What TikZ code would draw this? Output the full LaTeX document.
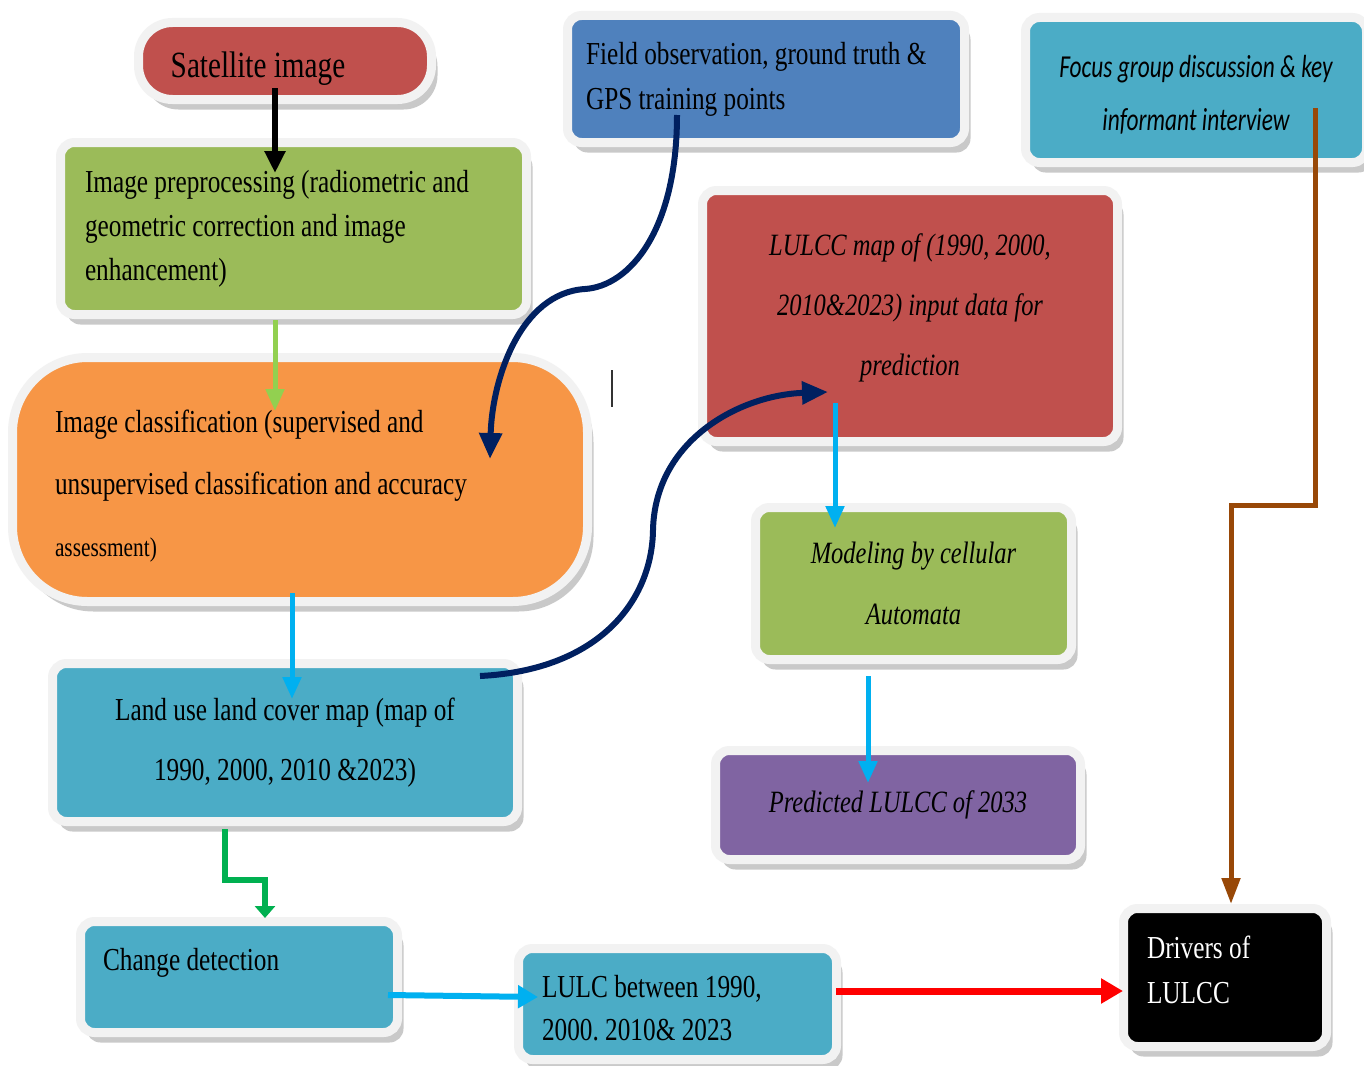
\documentclass[tikz,border=0pt]{standalone}
\usepackage{fontspec}
\setmainfont{Liberation Serif}[FakeStretch=0.79]
\newfontfamily\calib{Carlito}[FakeStretch=0.73]
\usetikzlibrary{arrows.meta,shadows,calc}
\frenchspacing
\definecolor{cRed}{HTML}{C0504D}
\definecolor{cGreen}{HTML}{9BBB59}
\definecolor{cBlue}{HTML}{4F81BD}
\definecolor{cTeal}{HTML}{4BACC6}
\definecolor{cOrange}{HTML}{F79646}
\definecolor{cPurple}{HTML}{8064A2}
\definecolor{bord}{HTML}{F2F2F2}
\definecolor{aNavy}{HTML}{002060}
\definecolor{aCyan}{HTML}{00B0F0}
\definecolor{aLGreen}{HTML}{92D050}
\definecolor{aGreen}{HTML}{00B050}
\definecolor{aRed}{HTML}{FF0000}
\definecolor{aBrown}{HTML}{984807}
\begin{document}
\begin{tikzpicture}[x=1pt,y=-1pt,
  box/.style={draw=bord, line width=9pt, rounded corners=14pt, inner ysep=4pt,
    drop shadow={shadow xshift=6pt,shadow yshift=-10pt,fill=black!60,opacity=.35}},
  serif/.style={font=\fontsize{32}{#1}\selectfont\frenchspacing},
  ital/.style={font=\fontsize{31}{#1}\selectfont\itshape},
  conn/.style={line width=#1, line cap=butt, line join=miter}
]
\useasboundingbox (0,0) rectangle (1364,1065);
\fill[white] (0,0) rectangle (1364,1065);

% boxes
\node[box, fill=cRed, minimum width=293, minimum height=77, rounded corners=34,
  font=\fontsize{37}{40}\selectfont] (sat) at (285,61)
  {\hspace*{-54pt}\raisebox{-8pt}[\height][\depth]{Satellite image}};
\node[box, fill=cGreen, minimum width=466, minimum height=172, inner xsep=24.5pt,
  text width=417pt, align=flush left, serif=44] (pre) at (293.5,228.5)
  {Image preprocessing (radiometric and\\ geometric correction and image\\ enhancement)};
\node[box, fill=cBlue, minimum width=397, minimum height=127, inner xsep=18.5pt,
  text width=360pt, align=flush left, serif=45] (field) at (766,79)
  {Field observation, ground truth \&\\ GPS training points};
\node[box, fill=cTeal, minimum width=341, minimum height=145, align=center,
  font=\fontsize{32}{53}\selectfont\calib\itshape] (focus) at (1196,90)
  {\mbox{}\\[-21pt]Focus group discussion \& key\\ informant interview};
\node[box, fill=cRed, minimum width=415, minimum height=251, align=center, ital=60] (lulcc) at (910,316)
  {LULCC map of (1990, 2000,\\ 2010\&2023) input data for\\ prediction\\[-37pt]\mbox{}};
\node[box, fill=cOrange, minimum width=575, minimum height=244, rounded corners=75,
  inner xsep=42.5pt, text width=490pt, align=flush left, serif=62] (cls) at (300,479.5)
  {\mbox{}\\[-26pt]Image classification (supervised and\\ unsupervised classification and accuracy\\ {\fontsize{27}{30}\selectfont assessment)}};
\node[box, fill=cGreen, minimum width=316, minimum height=152, align=center, ital=61] (model) at (913.5,583.5)
  {Modeling by cellular\\ Automata};
\node[box, fill=cTeal, minimum width=465, minimum height=158, align=center, serif=60] (lulc) at (285,742.5)
  {Land use land cover map (map of\\ 1990, 2000, 2010 \&2023)};
\node[box, fill=cPurple, minimum width=365, minimum height=109, align=center, ital=40] (pred) at (898,805)
  {Predicted LULCC of 2033};
\node[box, fill=cTeal, minimum width=317, minimum height=111, inner xsep=22.5pt,
  text width=272pt, align=flush left, serif=36] (chg) at (239,977)
  {Change detection\\ \mbox{}};
\node[box, fill=cTeal, minimum width=318, minimum height=111, inner xsep=23.5pt,
  text width=271pt, align=flush left, serif=43] (betw) at (677.5,1004)
  {\mbox{}\\[-13pt]LULC between 1990,\\ 2000. 2010\& 2023};
\node[box, fill=black, text=white, minimum width=203, minimum height=138, inner xsep=23.5pt,
  text width=156pt, align=flush left, serif=45] (drv) at (1225,977.5)
  {Drivers of\\ LULCC\\[-29pt]\mbox{}};

% connector end points
\coordinate (satOut) at (275,88);
\coordinate (preIn) at (275,173);
\coordinate (preOut) at (275,320);
\coordinate (clsIn) at (275,411);
\coordinate (clsOut) at (292,593);
\coordinate (lulcIn) at (292,699);
\coordinate (fieldOut) at (677,115);
\coordinate (clsIn2) at (490,459);
\coordinate (lulcOut) at (480,676);
\coordinate (lulccIn) at (828,392);
\coordinate (lulccOut) at (835,403);
\coordinate (modelIn) at (835,528);
\coordinate (modelOut) at (868,676);
\coordinate (predIn) at (868,783);
\coordinate (lulcOut2) at (225,829);
\coordinate (chgIn) at (265,918);
\coordinate (chgOut) at (388,995);
\coordinate (betwIn) at (538,997);
\coordinate (betwOut) at (836,991);
\coordinate (drvIn) at (1123,991);
\coordinate (focusOut) at (1315,108);
\coordinate (drvIn2) at (1231,904);

% connectors
\draw[conn=6pt, black, -{Triangle[width=20pt,length=22pt]}] (satOut) -- (preIn);
\draw[conn=5pt, aLGreen, -{Triangle[width=18pt,length=22pt]}] (preOut) -- (clsIn);
\draw[conn=5pt, aCyan, -{Triangle[width=18pt,length=22pt]}] (clsOut) -- (lulcIn);
\draw[conn=6pt, aNavy, -{Triangle[width=22pt,length=26pt]}] (fieldOut)
  .. controls (677,230) and (630,286) .. (585,289)
  .. controls (520,293) and (492,380) .. (clsIn2);
\draw[conn=6pt, aNavy, -{Triangle[width=22pt,length=26pt]}] (lulcOut)
  .. controls (600,670) and (652,600) .. (653,530)
  .. controls (655,440) and (740,395) .. (lulccIn);
\draw[conn=5pt, aCyan, -{Triangle[width=18pt,length=22pt]}] (lulccOut) -- (modelIn);
\draw[conn=5pt, aCyan, -{Triangle[width=18pt,length=22pt]}] (modelOut) -- (predIn);
\draw[conn=6pt, aGreen, -{Triangle[width=20pt,length=12pt]}] (lulcOut2) -- (225,880) -- (265,880) -- (chgIn);
\draw[conn=6pt, aCyan, -{Triangle[width=22pt,length=20pt]}] (chgOut) -- (betwIn);
\draw[conn=7pt, aRed, -{Triangle[width=24pt,length=22pt]}] (betwOut) -- (drvIn);
\draw[conn=5pt, aBrown, -{Triangle[width=18pt,length=26pt]}] (focusOut) -- (1315,505) -- (1231,505) -- (drvIn2);

% stray cursor mark
\draw[line width=1.5pt, black!80] (612,370) -- (612,407);
\end{tikzpicture}
\end{document}
